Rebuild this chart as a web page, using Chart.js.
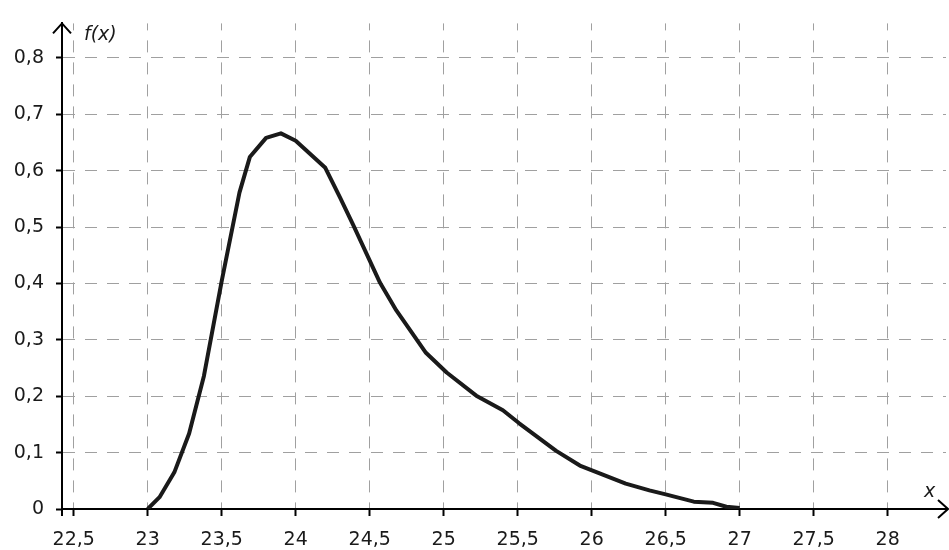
<!DOCTYPE html>
<html>
<head>
<meta charset="utf-8">
<script src="https://cdn.jsdelivr.net/npm/chart.js@4"></script>
<style>
  html, body { margin: 0; padding: 0; background: #fff; }
  #wrap { width: 949px; height: 550px; }
</style>
</head>
<body>
<div id="wrap"><canvas id="myChart"></canvas></div>
<script>
// values
const xValues = [23, 23.08, 23.18, 23.28, 23.38, 23.5, 23.62, 23.69, 23.8, 23.9, 24, 24.2, 24.3, 24.39, 24.57, 24.68,
  24.88, 25.02, 25.22, 25.4, 25.51, 25.76, 25.92, 26.23, 26.39, 26.5, 26.69, 26.82, 26.91, 27];
const fValues = [0, 0.021, 0.065, 0.134, 0.236, 0.404, 0.561, 0.624, 0.658, 0.666, 0.653, 0.605, 0.552, 0.503, 0.401, 0.352,
  0.277, 0.242, 0.201, 0.175, 0.152, 0.103, 0.077, 0.045, 0.033, 0.026, 0.013, 0.011, 0.004, 0.002];
const xTicks = [22.5, 23, 23.5, 24, 24.5, 25, 25.5, 26, 26.5, 27, 27.5, 28];
const yTicks = [0, 0.1, 0.2, 0.3, 0.4, 0.5, 0.6, 0.7, 0.8];

const fmt = (v) => String(v).replace(".", ",");
const labelFont = { family: "DejaVu Sans", size: 19 };

const axisArrows = {
  id: "axisArrows",
  afterDraw(chart) {
    const ctx = chart.ctx;
    const a = chart.chartArea;
    ctx.save();
    ctx.strokeStyle = "#000";
    ctx.lineWidth = 2;
    ctx.beginPath();
    // y axis a bit below x axis, x axis up to arrow tip
    ctx.moveTo(a.left, a.bottom);
    ctx.lineTo(a.left, a.bottom + 7);
    ctx.moveTo(a.right - 2, a.bottom);
    ctx.lineTo(a.right + 2, a.bottom);
    // arrow heads
    ctx.moveTo(a.left - 9, a.top + 10);
    ctx.lineTo(a.left, a.top);
    ctx.lineTo(a.left + 9, a.top + 10);
    ctx.moveTo(a.right - 8, a.bottom - 9);
    ctx.lineTo(a.right + 2, a.bottom);
    ctx.lineTo(a.right - 8, a.bottom + 9);
    ctx.stroke();

    ctx.fillStyle = "#1a1a1a";
    ctx.font = "italic 19px 'DejaVu Sans'";
    ctx.textBaseline = "alphabetic";
    ctx.fillText("f(x)", 84, 40);
    ctx.fillText("x", 924, 497);
    ctx.restore();
  }
};

const ctx = document.getElementById("myChart").getContext("2d");
new Chart(ctx, {
  type: "scatter",
  data: {
    datasets: [{
      data: xValues.map((x, i) => ({ x: x, y: fValues[i] })),
      showLine: true,
      borderColor: "#1a1a1a",
      borderWidth: 4,
      pointRadius: 0,
      tension: 0,
      borderJoinStyle: "round"
    }]
  },
  options: {
    responsive: true,
    maintainAspectRatio: false,
    animation: false,
    layout: { padding: { top: 14, right: 3, left: 0, bottom: 0 } },
    plugins: { legend: { display: false }, tooltip: { enabled: false } },
    scales: {
      x: {
        type: "linear",
        min: 22.421,
        max: 28.394,
        afterBuildTicks: (s) => { s.ticks = xTicks.map((v) => ({ value: v })); },
        afterFit: (s) => { s.height = 41; },
        ticks: { callback: (v) => fmt(v), font: labelFont, color: "#1a1a1a", padding: 13, maxRotation: 0, autoSkip: false },
        grid: {
          color: "#a0a0a0", lineWidth: 1,
          tickLength: 7, tickColor: "#000", tickWidth: 2, tickBorderDash: []
        },
        border: { color: "#000", width: 2, dash: [12, 10], dashOffset: 5 }
      },
      y: {
        min: 0,
        max: 0.861,
        afterBuildTicks: (s) => { s.ticks = yTicks.map((v) => ({ value: v })); },
        afterFit: (s) => { s.width = 62; },
        ticks: { callback: (v) => fmt(v), font: labelFont, color: "#1a1a1a", padding: 12, autoSkip: false },
        grid: {
          color: "#a0a0a0", lineWidth: 1,
          tickLength: 6, tickColor: "#000", tickWidth: 2, tickBorderDash: []
        },
        border: { color: "#000", width: 2, dash: [12, 10] }
      }
    }
  },
  plugins: [axisArrows]
});
</script>
</body>
</html>
